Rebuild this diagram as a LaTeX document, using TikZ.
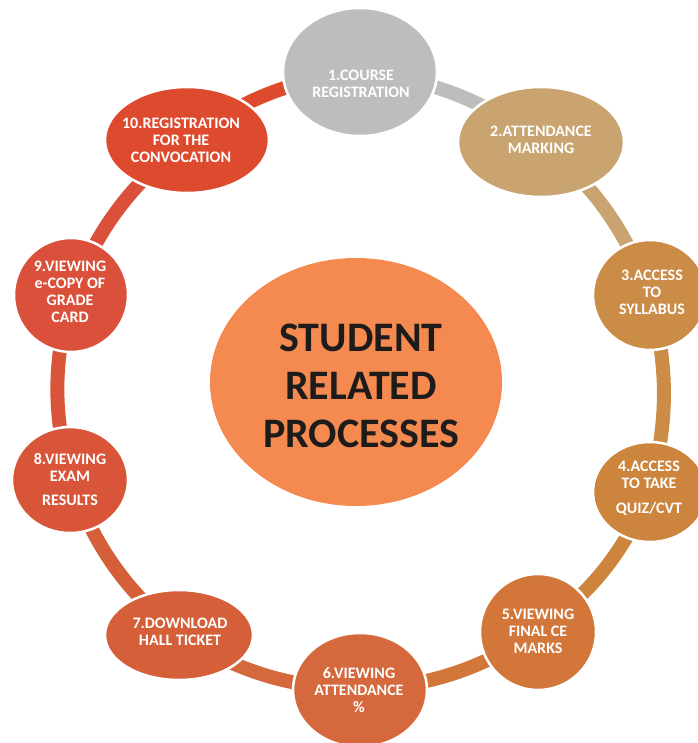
\documentclass[tikz,border=0pt]{standalone}
\usepackage{fontspec}
\setmainfont{Carlito}
\usetikzlibrary{shapes.geometric,backgrounds}
\definecolor{c1}{RGB}{191,189,187}
\definecolor{c2}{RGB}{201,164,112}
\definecolor{c3}{RGB}{203,140,72}
\definecolor{c4}{RGB}{205,133,62}
\definecolor{c5}{RGB}{210,118,58}
\definecolor{c6}{RGB}{213,104,60}
\definecolor{c7}{RGB}{212,95,56}
\definecolor{c8}{RGB}{216,85,58}
\definecolor{c9}{RGB}{219,80,58}
\definecolor{c10}{RGB}{222,74,46}
\definecolor{cc}{RGB}{245,138,80}
\definecolor{ctext}{RGB}{30,28,26}
\begin{document}
\begin{tikzpicture}[x=1pt,y=-1pt,
  blob/.style={ellipse,draw=white,line width=2.5pt,inner sep=0pt,outer sep=0pt},
  lbl/.style={text=white,font=\bfseries\fontsize{16}{17}\selectfont,align=center,inner sep=0pt},
  ringseg/.style={line width=14pt}]
\useasboundingbox (0,0) rectangle (697,743);
% nodes
\node[blob,fill=c1,minimum width=154pt,minimum height=128pt] (n1) at (360,72) {};
\node[lbl] (t1) at (361,84) {1.COURSE\\REGISTRATION};
\node[blob,fill=c2,minimum width=166pt,minimum height=110pt] (n2) at (541,142) {};
\node[lbl] (t2) at (541,140) {2.ATTENDANCE\\MARKING};
\node[blob,fill=c3,minimum width=114pt,minimum height=110pt] (n3) at (650,295) {};
\node[lbl] (t3) at (652,292) {3.ACCESS\\TO\\SYLLABUS};
\node[blob,fill=c4,minimum width=114pt,minimum height=100pt] (n4) at (650,492) {};
\node[lbl] (t4) at (649,488) {4.ACCESS\\TO TAKE\\[8pt]QUIZ/CVT};
\node[blob,fill=c5,minimum width=116pt,minimum height=116pt] (n5) at (538,632) {};
\node[lbl] (t5) at (538,631) {5.VIEWING\\FINAL CE\\MARKS};
\node[blob,fill=c6,minimum width=134pt,minimum height=114pt] (n6) at (360,690) {};
\node[lbl] (t6) at (359,690) {6.VIEWING\\ATTENDANCE\\\%};
\node[blob,fill=c7,minimum width=148pt,minimum height=90pt] (n7) at (179,635) {};
\node[lbl] (t7) at (180,632) {7.DOWNLOAD\\HALL TICKET};
\node[blob,fill=c8,minimum width=116pt,minimum height=106pt] (n8) at (70,480) {};
\node[lbl] (t8) at (70,480) {8.VIEWING\\EXAM\\[7pt]RESULTS};
\node[blob,fill=c9,minimum width=114pt,minimum height=114pt] (n9) at (71,295) {};
\node[lbl] (t9) at (70,292) {9.VIEWING\\e-COPY OF\\GRADE\\CARD};
\node[blob,fill=c10,minimum width=164pt,minimum height=106pt] (n10) at (187,140) {};
\node[lbl] (t10) at (181,140) {10.REGISTRATION\\FOR THE\\CONVOCATION};
% centre
\node[ellipse,fill=cc,inner sep=0pt,minimum width=292pt,minimum height=248pt] (c) at (356,382) {};
\node[text=ctext,font=\bfseries\fontsize{42}{48}\selectfont,align=center,inner sep=0pt] (ct) at (361,386) {STUDENT\\RELATED\\PROCESSES};
% ring
\begin{scope}[on background layer]
\draw[ringseg,c10] (n10.center) to[bend left=14] (n1.center);
\draw[ringseg,c1] (n1.center) to[bend left=14] (n2.center);
\draw[ringseg,c2] (n2.center) to[bend left=14] (n3.center);
\draw[ringseg,c3] (n3.center) to[bend left=14] (n4.center);
\draw[ringseg,c4] (n4.center) to[bend left=14] (n5.center);
\draw[ringseg,c5] (n5.center) to[bend left=14] (n6.center);
\draw[ringseg,c6] (n6.center) to[bend left=14] (n7.center);
\draw[ringseg,c7] (n7.center) to[bend left=14] (n8.center);
\draw[ringseg,c8] (n8.center) to[bend left=14] (n9.center);
\draw[ringseg,c9] (n9.center) to[bend left=14] (n10.center);
\end{scope}
\end{tikzpicture}
\end{document}
